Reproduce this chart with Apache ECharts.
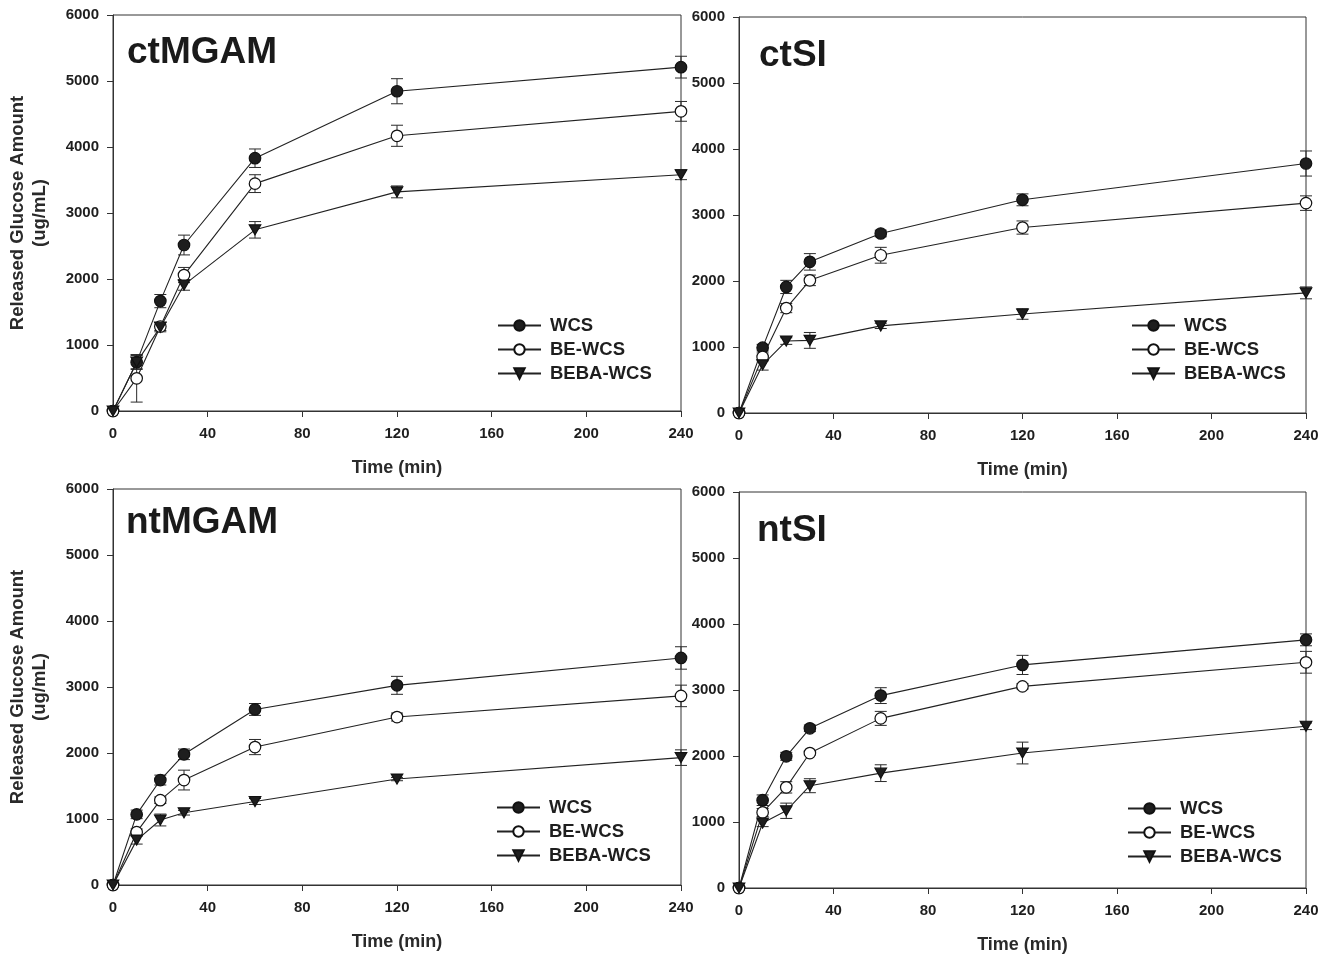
<!DOCTYPE html>
<html>
<head>
<meta charset="utf-8">
<script src="https://cdn.jsdelivr.net/npm/echarts@6/dist/echarts.min.js"></script>
<style>
html,body{margin:0;padding:0;background:#fff;}
#chart{width:1331px;height:956px;}
</style>
</head>
<body>
<div id="chart"></div>
<script>
// ---------- data ----------
const times = [0, 10, 20, 30, 60, 120, 240];
const xTickLabels = [0, 40, 80, 120, 160, 200, 240];
const yTickLabels = [0, 1000, 2000, 3000, 4000, 5000, 6000];
const seriesNames = ['WCS', 'BE-WCS', 'BEBA-WCS'];
const panelTitles = ['ctMGAM', 'ctSI', 'ntMGAM', 'ntSI'];
const xAxisTitle = 'Time (min)';
const yAxisTitle = 'Released Glucose Amount\n(ug/mL)';

const ctMGAM_WCS      = [0, 740, 1665, 2515, 3830, 4845, 5210];
const ctMGAM_WCS_err  = [0, 110, 100, 150, 140, 190, 165];
const ctMGAM_BE       = [0, 495, 1280, 2060, 3445, 4170, 4540];
const ctMGAM_BE_err   = [0, 360, 60, 115, 135, 160, 150];
const ctMGAM_BEBA     = [0, 740, 1270, 1910, 2745, 3320, 3580];
const ctMGAM_BEBA_err = [0, 100, 70, 80, 125, 90, 75];

const ctSI_WCS      = [0, 990, 1910, 2290, 2720, 3230, 3780];
const ctSI_WCS_err  = [0, 50, 100, 125, 50, 90, 190];
const ctSI_BE       = [0, 850, 1590, 2010, 2390, 2810, 3180];
const ctSI_BE_err   = [0, 60, 70, 80, 120, 100, 110];
const ctSI_BEBA     = [0, 730, 1090, 1100, 1320, 1500, 1820];
const ctSI_BEBA_err = [0, 80, 50, 120, 40, 80, 90];

const ntMGAM_WCS      = [0, 1070, 1590, 1980, 2660, 3025, 3440];
const ntMGAM_WCS_err  = [0, 65, 75, 80, 90, 136, 170];
const ntMGAM_BE       = [0, 800, 1285, 1590, 2090, 2545, 2865];
const ntMGAM_BE_err   = [0, 50, 50, 150, 115, 60, 163];
const ntMGAM_BEBA     = [0, 680, 985, 1095, 1265, 1605, 1930];
const ntMGAM_BEBA_err = [0, 60, 90, 35, 45, 25, 118];

const ntSI_WCS      = [0, 1330, 1995, 2420, 2915, 3380, 3760];
const ntSI_WCS_err  = [0, 80, 60, 50, 120, 145, 90];
const ntSI_BE       = [0, 1145, 1525, 2045, 2570, 3055, 3420];
const ntSI_BE_err   = [0, 60, 86, 30, 106, 40, 165];
const ntSI_BEBA     = [0, 985, 1170, 1550, 1740, 2045, 2450];
const ntSI_BEBA_err = [0, 55, 116, 106, 127, 165, 50];

const panelValues = [
  [ctMGAM_WCS, ctMGAM_BE, ctMGAM_BEBA],
  [ctSI_WCS, ctSI_BE, ctSI_BEBA],
  [ntMGAM_WCS, ntMGAM_BE, ntMGAM_BEBA],
  [ntSI_WCS, ntSI_BE, ntSI_BEBA]
];
const panelErrors = [
  [ctMGAM_WCS_err, ctMGAM_BE_err, ctMGAM_BEBA_err],
  [ctSI_WCS_err, ctSI_BE_err, ctSI_BEBA_err],
  [ntMGAM_WCS_err, ntMGAM_BE_err, ntMGAM_BEBA_err],
  [ntSI_WCS_err, ntSI_BE_err, ntSI_BEBA_err]
];

// ---------- layout / style ----------
const FONT = '"Liberation Sans", Arial, Helvetica, sans-serif';
const INK = '#1e1e1e';
const grids = [
  {left: 113, top: 15, width: 568, height: 396},
  {left: 739, top: 17, width: 567, height: 396},
  {left: 113, top: 489, width: 568, height: 396},
  {left: 739, top: 492, width: 567, height: 396}
];
const legendPos = [
  {left: 497, top: 316},
  {left: 1131, top: 316},
  {left: 496, top: 798},
  {left: 1127, top: 799}
];
const titlePos = [
  {x: 127, y: 53},
  {x: 759, y: 56},
  {x: 126, y: 523},
  {x: 757, y: 531}
];
const TRI_DOWN = 'path://M0,0 L12,0 L6,10.4 Z';
const markerStyles = [
  {symbol: 'circle', size: 11.5, fill: INK},
  {symbol: 'circle', size: 11.5, fill: '#ffffff'},
  {symbol: TRI_DOWN, size: [11.5, 10], fill: INK}
];

const option = {
  animation: false,
  backgroundColor: '#ffffff',
  textStyle: {fontFamily: FONT},
  grid: grids.map(g => Object.assign({
    show: true, borderColor: '#333', borderWidth: 1, backgroundColor: 'transparent', containLabel: false
  }, g)),
  xAxis: grids.map((g, i) => ({
    type: 'value', gridIndex: i, min: 0, max: 240, interval: 40,
    name: xAxisTitle, nameLocation: 'middle', nameGap: 48,
    nameTextStyle: {fontFamily: FONT, fontWeight: 'bold', fontSize: 18, color: '#2a2a2a'},
    axisLine: {show: true, onZero: false, lineStyle: {color: '#333', width: 1}},
    axisTick: {show: true, inside: false, length: 6, lineStyle: {color: '#333'}},
    axisLabel: {margin: 15, fontFamily: FONT, fontWeight: 'bold', fontSize: 15, color: INK,
      formatter: v => xTickLabels.indexOf(v) >= 0 ? String(v) : ''},
    splitLine: {show: false}
  })),
  yAxis: grids.map((g, i) => ({
    type: 'value', gridIndex: i, min: 0, max: 6000, interval: 1000,
    name: (i === 0 || i === 2) ? yAxisTitle : '',
    nameLocation: 'middle', nameRotate: 90, nameGap: 62,
    nameTextStyle: {fontFamily: FONT, fontWeight: 'bold', fontSize: 18.5, lineHeight: 22, color: '#2a2a2a'},
    axisLine: {show: true, onZero: false, lineStyle: {color: '#333', width: 1}},
    axisTick: {show: true, inside: false, length: 6, lineStyle: {color: '#333'}},
    axisLabel: {margin: 14, fontFamily: FONT, fontWeight: 'bold', fontSize: 15, color: INK,
      formatter: v => yTickLabels.indexOf(v) >= 0 ? String(v) : ''},
    splitLine: {show: false}
  })),
  legend: legendPos.map(p => ({
    left: p.left, top: p.top, orient: 'vertical', padding: 0,
    itemWidth: 43, itemHeight: 13, itemGap: 5, selectedMode: false,
    data: seriesNames,
    textStyle: {fontFamily: FONT, fontWeight: 'bold', fontSize: 18.5, lineHeight: 18, color: INK, padding: [0, 0, 0, 4]}
  })),
  graphic: panelTitles.map((t, i) => ({
    type: 'text', left: titlePos[i].x, top: titlePos[i].y - 19, z: 10,
    style: {text: t, fontFamily: FONT, fontWeight: 'bold', fontSize: 37, fill: '#1a1a1a'}
  })),
  series: []
};

function errRender(params, api) {
  const x = api.value(0);
  const lo = api.coord([x, api.value(1)]);
  const hi = api.coord([x, api.value(2)]);
  const hw = 6;
  const st = {stroke: '#2a2a2a', lineWidth: 1};
  return {
    type: 'group',
    children: [
      {type: 'line', shape: {x1: lo[0], y1: lo[1], x2: hi[0], y2: hi[1]}, style: st},
      {type: 'line', shape: {x1: hi[0] - hw, y1: hi[1], x2: hi[0] + hw, y2: hi[1]}, style: st},
      {type: 'line', shape: {x1: lo[0] - hw, y1: lo[1], x2: lo[0] + hw, y2: lo[1]}, style: st}
    ]
  };
}

panelValues.forEach((vals, p) => {
  vals.forEach((arr, s) => {
    const errs = panelErrors[p][s];
    const ebData = [];
    times.forEach((t, k) => {
      if (errs[k] > 0) ebData.push([t, arr[k] - errs[k], arr[k] + errs[k]]);
    });
    option.series.push({
      type: 'custom', name: seriesNames[s] + ' err', xAxisIndex: p, yAxisIndex: p, z: 2,
      renderItem: errRender, encode: {x: 0, y: [1, 2]}, data: ebData, silent: true
    });
  });
  vals.forEach((arr, s) => {
    const m = markerStyles[s];
    option.series.push({
      type: 'line', name: seriesNames[s], xAxisIndex: p, yAxisIndex: p, z: 3,
      data: times.map((t, k) => [t, arr[k]]),
      symbol: m.symbol, symbolSize: m.size,
      showAllSymbol: true,
      lineStyle: {color: '#222', width: 1.1},
      itemStyle: {color: m.fill, borderColor: '#111', borderWidth: 1.2, opacity: 1},
      emphasis: {disabled: true}
    });
  });
});

const chart = echarts.init(document.getElementById('chart'), null, {renderer: 'canvas'});
chart.setOption(option);
</script>
</body>
</html>
